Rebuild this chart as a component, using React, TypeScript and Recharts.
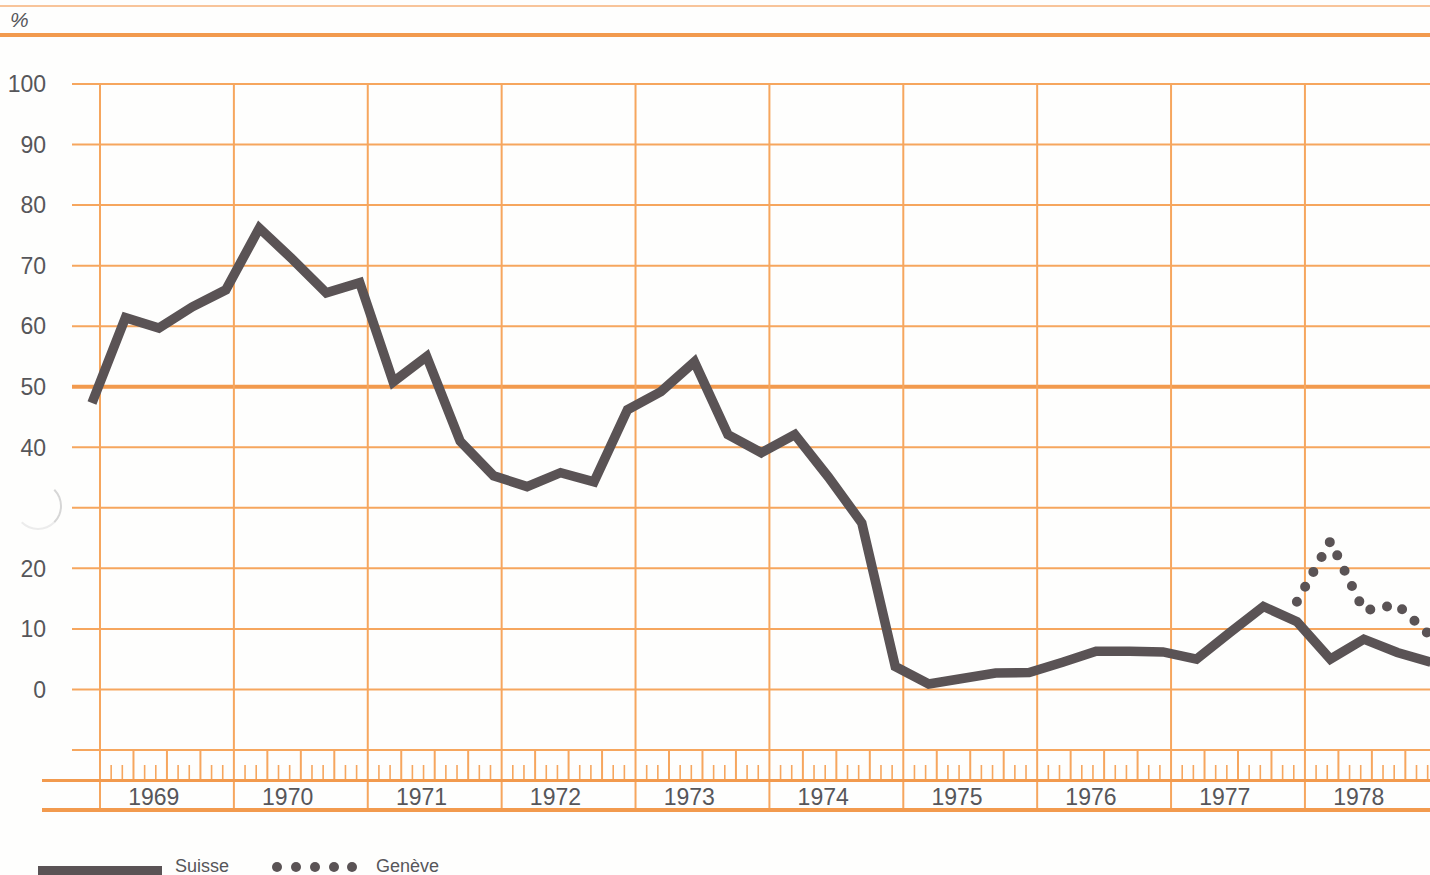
import { LineChart, Line, XAxis, YAxis, CartesianGrid, ReferenceLine } from 'recharts';

// valeurs trimestrielles (fin de trimestre), du 4e trim. 1968 au 4e trim. 1978
const suisse = [
  47.3, 61.4, 59.7, 63.2, 66, 76.2, 71, 65.5, 67.2, 50.8, 55, 41, 35.3, 33.5, 35.8, 34.3,
  46.2, 49.2, 54.1, 42.1, 39.1, 42.1, 35.1, 27.5, 3.8, 0.9, 1.8, 2.7, 2.8, 4.5, 6.3, 6.3,
  6.2, 5.0, 9.4, 13.7, 11.2, 5.0, 8.3, 6.1, 4.5,
];
// Genève : seulement à partir du 4e trim. 1977
const geneveStart = 36;
const geneve = [14.5, 24.5, 13, 14, 8.8];

const years = [1969, 1970, 1971, 1972, 1973, 1974, 1975, 1976, 1977, 1978];
const yTicks = [-10, 0, 10, 20, 30, 40, 50, 60, 70, 80, 90, 100];
const hiddenYLabels = [-10, 30];

// axe x en mois depuis janvier 1969
const pointShift = -0.72;
const monthTicks = Array.from({ length: 120 }, (_, k) => k);
const yearStarts = years.map((_, i) => i * 12);

const rows = suisse.map((v, i) => ({
  m: i * 3 + pointShift,
  suisse: v,
  geneve: i >= geneveStart ? geneve[i - geneveStart] : null,
}));

const W = 1430;
const H = 875;
const ORANGE = '#f6a65e';
const ORANGE_DARK = '#f29a4e';
const INK = '#5a5355';
const TEXT = '#56565a';
const FONT = '"Liberation Sans", Arial, sans-serif';

const YTick = ({ y, payload }: any) => {
  if (hiddenYLabels.includes(payload.value)) return <g />;
  return (
    <text x={46} y={y} textAnchor="end" dy="0.36em" fontSize={23} fill={TEXT} fontFamily={FONT}>
      {payload.value}
    </text>
  );
};

// bande de l'axe : années, trimestres et mois
const XTick = ({ x, payload }: any) => {
  const k = payload.value as number;
  return (
    <g>
      {k % 12 === 0 && <line x1={x} x2={x} y1={750} y2={810} stroke={ORANGE} strokeWidth={2} />}
      {k % 12 !== 0 && k % 3 === 0 && <line x1={x} x2={x} y1={750} y2={780} stroke={ORANGE} strokeWidth={2} />}
      {k % 3 !== 0 && <line x1={x} x2={x} y1={765} y2={780} stroke={ORANGE} strokeWidth={1.6} />}
      {k % 12 === 5 && (
        <text x={x - 2} y={797} textAnchor="middle" dy="0.36em" fontSize={23} fill={TEXT} fontFamily={FONT}>
          {years[Math.floor(k / 12)]}
        </text>
      )}
    </g>
  );
};

export default function App() {
  return (
    <div
      style={{
        position: 'absolute',
        left: 0,
        top: 0,
        width: W,
        height: H,
        overflow: 'hidden',
        background: '#fefefd',
        fontFamily: FONT,
      }}
    >
      {/* filets du haut */}
      <div style={{ position: 'absolute', left: 0, top: 5, width: W, height: 2, background: '#f8c49a' }} />
      <div style={{ position: 'absolute', left: 0, top: 33, width: W, height: 4, background: ORANGE_DARK }} />
      <div style={{ position: 'absolute', left: 10, top: 8, fontSize: 21, fontStyle: 'italic', color: TEXT }}>%</div>

      {/* trou de perforation */}
      <div
        style={{
          position: 'absolute',
          left: 14,
          top: 482,
          width: 44,
          height: 44,
          borderRadius: '50%',
          border: '2px solid transparent',
          borderRightColor: '#d6d6d6',
          borderBottomColor: '#ececec',
        }}
      />

      <LineChart width={W} height={H} data={rows} margin={{ top: 84, right: 0, bottom: 95, left: 0 }}>
        <CartesianGrid horizontal vertical={false} stroke={ORANGE} strokeWidth={2} />
        <ReferenceLine y={50} stroke={ORANGE_DARK} strokeWidth={4} />
        {yearStarts.map((m) => (
          <ReferenceLine key={`yr-${m}`} x={m} stroke={ORANGE} strokeWidth={2} />
        ))}
        <XAxis
          dataKey="m"
          type="number"
          domain={[-2.51, 119.21]}
          allowDataOverflow
          ticks={monthTicks}
          interval={0}
          axisLine={false}
          tickLine={false}
          height={30}
          tick={<XTick />}
        />
        <YAxis
          type="number"
          domain={[-10, 100]}
          ticks={yTicks}
          interval={0}
          width={72}
          axisLine={false}
          tickLine={false}
          tick={<YTick />}
        />
        <Line
          dataKey="suisse"
          stroke={INK}
          strokeWidth={9.5}
          dot={false}
          isAnimationActive={false}
        />
        <Line
          dataKey="geneve"
          stroke={INK}
          strokeWidth={10}
          strokeDasharray="0 17"
          strokeLinecap="round"
          dot={false}
          connectNulls={false}
          isAnimationActive={false}
        />
      </LineChart>

      {/* filets de la bande des années */}
      <div style={{ position: 'absolute', left: 42, top: 779, width: W - 42, height: 3, background: ORANGE_DARK }} />
      <div style={{ position: 'absolute', left: 42, top: 808, width: W - 42, height: 4, background: ORANGE_DARK }} />

      {/* légende */}
      <div style={{ position: 'absolute', left: 38, top: 866, width: 124, height: 10, background: INK }} />
      <div style={{ position: 'absolute', left: 175, top: 856, fontSize: 18, color: TEXT }}>Suisse</div>
      {[277, 296, 315, 334, 352].map((cx) => (
        <div
          key={cx}
          style={{
            position: 'absolute',
            left: cx - 5,
            top: 862,
            width: 10,
            height: 10,
            borderRadius: '50%',
            background: INK,
          }}
        />
      ))}
      <div style={{ position: 'absolute', left: 376, top: 856, fontSize: 18, color: TEXT }}>Genève</div>
    </div>
  );
}
